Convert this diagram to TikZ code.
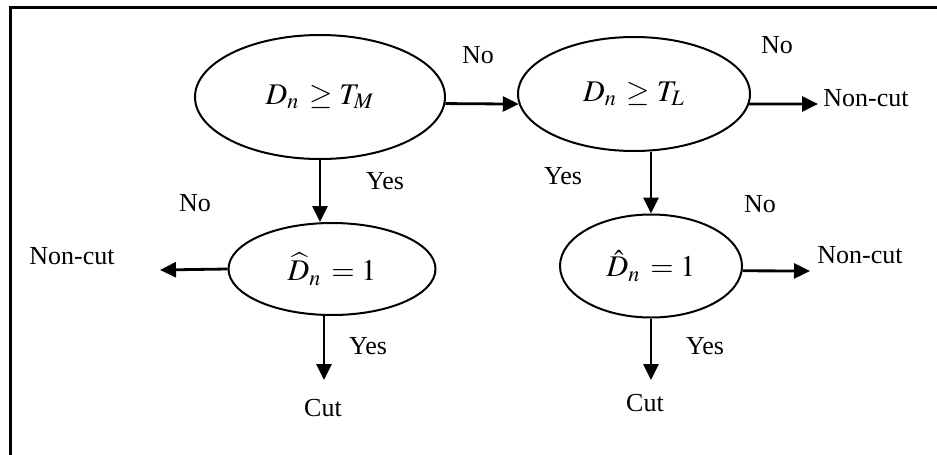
\documentclass[tikz,border=0pt]{standalone}
\usepackage{mathptmx}
\usepackage{fontspec}
\setmainfont{Liberation Serif}
\usetikzlibrary{shapes.geometric,arrows.meta,positioning}

\tikzset{
  decision/.style={draw, ellipse, line width=1pt, inner sep=0pt,
    font=\fontsize{15}{18}\selectfont},
  flow/.style={-{Triangle[length=8pt,width=7.5pt]}, line width=1.4pt},
  lbl/.style={font=\fontsize{13}{15}\selectfont, inner sep=0pt},
}

\begin{document}
\begin{tikzpicture}[x=0.5pt,y=-0.5pt]
  \useasboundingbox (0,0) rectangle (937,455);
  % frame
  \draw[line width=1.5pt] (10.5,455) -- (10.5,7) -- (937,7);

  % decisions
  \node[decision, minimum width=125pt, minimum height=62pt] (thrM) at (320,97) {$D_n\,\ge T_M$\hspace{6pt}};
  \node[decision, minimum width=116pt, minimum height=57pt] (thrL) at (634,94) {$D_n\,\ge T_L$};
  \node[decision, minimum width=103.5pt, minimum height=46pt] (estL) at (332,269) {$\widehat{D}_n\,=1$};
  \node[decision, minimum width=91pt, minimum height=51.5pt] (estR) at (651,266) {$\hat{D}_n\,=1$};

  % free ends
  \coordinate (ncTop) at (818,104);
  \coordinate (ncLeft) at (160,270);
  \coordinate (ncRight) at (810,271);
  \coordinate (cutL) at (324,380);
  \coordinate (cutR) at (651,380);

  % connectors
  \draw[flow] (thrM.-3) -- (thrL.185);
  \draw[flow] (thrL.-5) -- (ncTop);
  \draw[flow] (thrM.south) -- (thrM.south |- estL.north);
  \draw[flow] (estR.north |- thrL.south) -- (estR.north);
  \draw[flow] (estL.west) -- (ncLeft);
  \draw[flow] (estR.-3) -- (ncRight);
  \draw[flow] (cutL |- estL.south) -- (cutL);
  \draw[flow] (estR.south) -- (cutR);

  % labels
  \node[lbl] (noMid) at (478,55) {No};
  \node[lbl] (noTop) at (777,45) {No};
  \node[lbl, anchor=west] (ncTopTxt) at (823,98) {Non-cut};
  \node[lbl] (yesM) at (385,181) {Yes};
  \node[lbl] (yesL) at (563,176) {Yes};
  \node[lbl] (noLeft) at (195,203) {No};
  \node[lbl] (ncLeftTxt) at (72,256) {Non-cut};
  \node[lbl] (noRight) at (760,204) {No};
  \node[lbl, anchor=west] (ncRightTxt) at (817,255) {Non-cut};
  \node[lbl] (yesCL) at (368,346) {Yes};
  \node[lbl] (yesCR) at (705,346) {Yes};
  \node[lbl] (cutTxtL) at (323,408) {Cut};
  \node[lbl] (cutTxtR) at (645,403) {Cut};
\end{tikzpicture}
\end{document}
